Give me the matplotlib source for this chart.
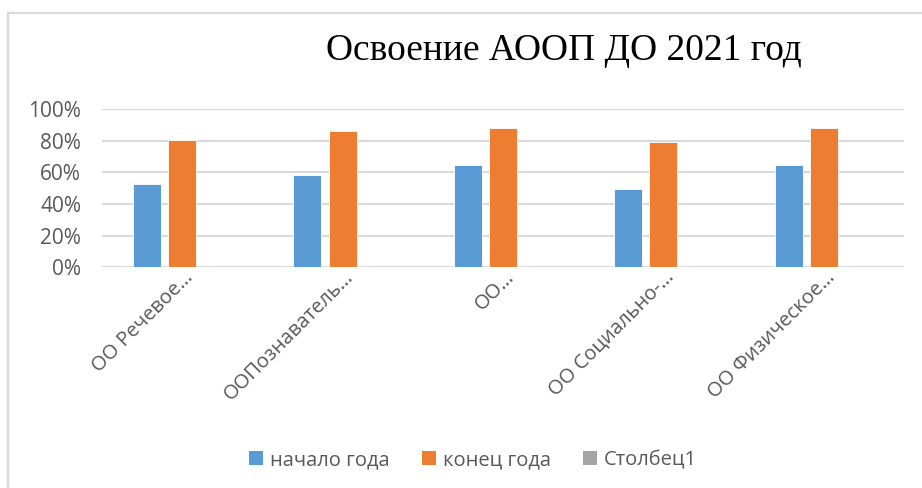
import matplotlib
matplotlib.use("Agg")
import matplotlib.pyplot as plt
import numpy as np
from matplotlib.patches import Patch
from matplotlib.lines import Line2D

categories = ["ОО Речевое…", "ООПознаватель…", "ОО…", "ОО Социально-…", "ОО Физическое…"]
start_year = [0.525, 0.582, 0.65, 0.494, 0.65]
end_year = [0.804, 0.861, 0.884, 0.795, 0.884]
col1 = [0, 0, 0, 0, 0]
series_names = ["начало года", "конец года", "Столбец1"]
colors = ["#5B9BD5", "#ED7D31", "#A5A5A5"]
yticks = [0, 0.2, 0.4, 0.6, 0.8, 1.0]
ytick_labels = ["0%", "20%", "40%", "60%", "80%", "100%"]
title = "Освоение АООП ДО 2021 год"

FONT = "Open Sans"
fig = plt.figure(figsize=(9.22, 4.88), dpi=100)
ax = fig.add_axes([0.1106, 0.4523, 0.8699, 0.3238])

x = np.arange(len(categories))
w = 0.175
step = 0.219
for i, (vals, c) in enumerate(zip([start_year, end_year, col1], colors)):
    ax.bar(x + (i - 1) * step, vals, width=w, color=c, edgecolor="white", linewidth=0.6, zorder=3)

ax.set_xlim(-0.5, len(categories) - 0.5)
ax.set_ylim(0, 1.0)
ax.set_yticks(yticks)
ax.set_yticklabels(ytick_labels, fontsize=15, color="#595959", family=FONT)
ax.tick_params(axis="y", length=0, pad=15)
ax.tick_params(axis="x", length=0)
ax.grid(axis="y", color="#D9D9D9", linewidth=1.5, zorder=0)
for s in ax.spines.values():
    s.set_visible(False)
ax.set_xticks(x)
ax.set_xticklabels([])
for xi, lab in zip(x, categories):
    ax.annotate(lab, xy=(xi + 0.05, 0), xycoords=("data", "axes fraction"),
                xytext=(0, -5), textcoords="offset points",
                rotation=45, rotation_mode="anchor", ha="right", va="center",
                fontsize=14.5, color="#595959", family=FONT)

fig.text(0.612, 0.897, title, ha="center", va="center", fontsize=27,
         family="Liberation Serif", color="black")

handles = [Patch(facecolor=c, edgecolor="none") for c in colors]
fig.legend(handles, series_names, loc="center", bbox_to_anchor=(0.513, 0.057),
           ncol=3, frameon=False, handlelength=0.7, handleheight=0.7,
           handletextpad=0.35, columnspacing=1.6,
           prop={"family": FONT, "size": 14.5}, labelcolor="#595959")

fig.add_artist(Line2D([8/922, 8/922], [0, 1 - 13/488], transform=fig.transFigure,
                      color="#D9D9D9", linewidth=1.6))
fig.add_artist(Line2D([8/922, 1], [1 - 13/488, 1 - 13/488], transform=fig.transFigure,
                      color="#D9D9D9", linewidth=1.6))

fig.savefig("out.png", dpi=100, facecolor="white")
